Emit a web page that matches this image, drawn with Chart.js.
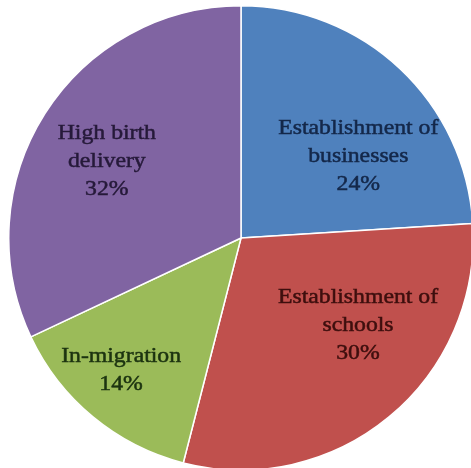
<!DOCTYPE html>
<html>
<head>
<meta charset="utf-8">
<script src="https://cdn.jsdelivr.net/npm/chart.js@4"></script>
<style>
  html, body { margin: 0; padding: 0; background: #fff; overflow: hidden; width: 471px; height: 468px; }
  #wrap { position: absolute; left: 8px; top: 5px; width: 466px; height: 466px; }
</style>
</head>
<body>
<div id="wrap"><canvas id="pieChart"></canvas></div>
<script>
// --- data ---
const categories = ['Establishment of businesses', 'Establishment of schools', 'In-migration', 'High birth delivery'];
const shares = [24, 30, 14, 32];
const labelLines = [
    ['Establishment of', 'businesses'],
    ['Establishment of', 'schools'],
    ['In-migration'],
    ['High birth', 'delivery']
];

const sliceColors = ['#4f81bd', '#c0504d', '#9bbb59', '#8064a2'];
const textColors = ['#14284a', '#3e0f0e', '#1c3310', '#261a3a'];
// label anchor: angle shift from slice middle (deg), fraction of radius
const labelPlace = [[12, 0.615], [-13.5, 0.63], [2.5, 0.77], [-2.7, 0.665]];

// --- in-slice labels ---
const sliceLabels = {
    id: 'sliceLabels',
    afterDatasetsDraw(chart) {
        const ctx = chart.ctx;
        const meta = chart.getDatasetMeta(0);
        meta.data.forEach((arc, i) => {
            const p = arc.getProps(['x', 'y', 'startAngle', 'endAngle', 'outerRadius'], true);
            const mid = (p.startAngle + p.endAngle) / 2 + labelPlace[i][0] * Math.PI / 180;
            const r = p.outerRadius * labelPlace[i][1];
            const cx = p.x + Math.cos(mid) * r;
            const cy = p.y + Math.sin(mid) * r;
            const lines = labelLines[i].concat([shares[i] + '%']);
            const lh = 28;
            ctx.save();
            ctx.font = '21px "Liberation Serif", "Times New Roman", serif';
            ctx.fillStyle = textColors[i];
            ctx.strokeStyle = textColors[i];
            ctx.lineWidth = 0.5;
            ctx.textAlign = 'center';
            ctx.textBaseline = 'middle';
            ctx.translate(cx, cy);
            ctx.scale(1.13, 1);
            lines.forEach((t, k) => {
                const y = (k - (lines.length - 1) / 2) * lh;
                ctx.fillText(t, 0, y);
                ctx.strokeText(t, 0, y);
            });
            ctx.restore();
        });
    }
};

new Chart(document.getElementById('pieChart'), {
    type: 'pie',
    data: {
        labels: categories,
        datasets: [{
            data: shares,
            backgroundColor: sliceColors,
            borderColor: '#ffffff',
            borderWidth: 1.5
        }]
    },
    options: {
        responsive: true,
        maintainAspectRatio: false,
        animation: false,
        layout: { padding: 0 },
        plugins: {
            legend: { display: false },
            tooltip: { enabled: false }
        }
    },
    plugins: [sliceLabels]
});
</script>
</body>
</html>
